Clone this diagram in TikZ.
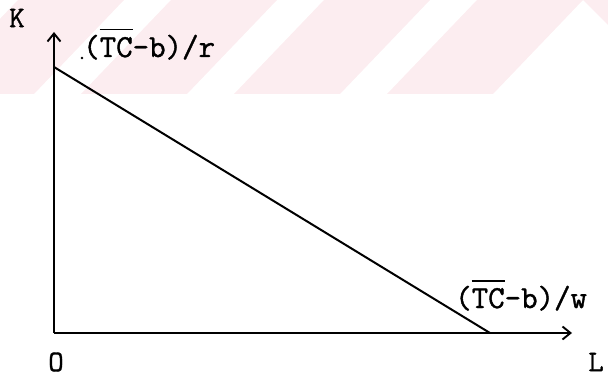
\documentclass[tikz,border=0pt]{standalone}
\usepackage{fontspec}
\setmonofont[FakeBold=1.2]{Latin Modern Mono}
\usetikzlibrary{arrows.meta}
\definecolor{wmpink}{RGB}{252,237,240}
\tikzset{
  axis/.style={line width=1.9pt,-{Straight Barb[length=8pt,width=13pt,line width=1.9pt]}},
  budget/.style={line width=2pt},
  lbl/.style={inner sep=0pt,font=\fontsize{32}{36}\selectfont\ttfamily},
  axlbl/.style={inner sep=0pt,font=\fontsize{30}{32}\selectfont\ttfamily},
  stripe/.style={fill=wmpink,draw=none}
}
\newcommand{\tcbar}{\makebox[0pt][l]{\rule[26.5pt]{33pt}{1.3pt}}TC}
\begin{document}
\begin{tikzpicture}[x=1pt,y=-1pt]
\useasboundingbox (0,0) rectangle (608,377);
% faint watermark stripes
\foreach \a in {18,171,324,477}{
  \fill[stripe] (\a,0) -- ({\a+106},0) -- ({\a+16},94) -- ({\a-90},94) -- cycle;
}
\fill[stripe] (583,0) -- (608,0) -- (608,25) -- cycle;
% axes
\coordinate (O) at (54,333);
\coordinate (ktip) at (54,32);
\coordinate (ltip) at (572,333);
\coordinate (kint) at (54,67);
\coordinate (lint) at (490,333);
\draw[axis] (O) -- (ktip);
\draw[axis] (O) -- (ltip);
\draw[budget] (kint) -- (lint);
% labels
\node[axlbl] (K) at (17,18) {K};
\node[axlbl] (Olab) at (56,362) {O};
\node[axlbl] (L) at (596,362) {L};
\fill (82,58) circle (1.4pt);
\node[lbl,anchor=base west] (rlab) at (83,57) {(\tcbar-b)/r};
\node[lbl,anchor=base west] (wlab) at (455,308) {(\tcbar-b)/w};
\end{tikzpicture}
\end{document}
